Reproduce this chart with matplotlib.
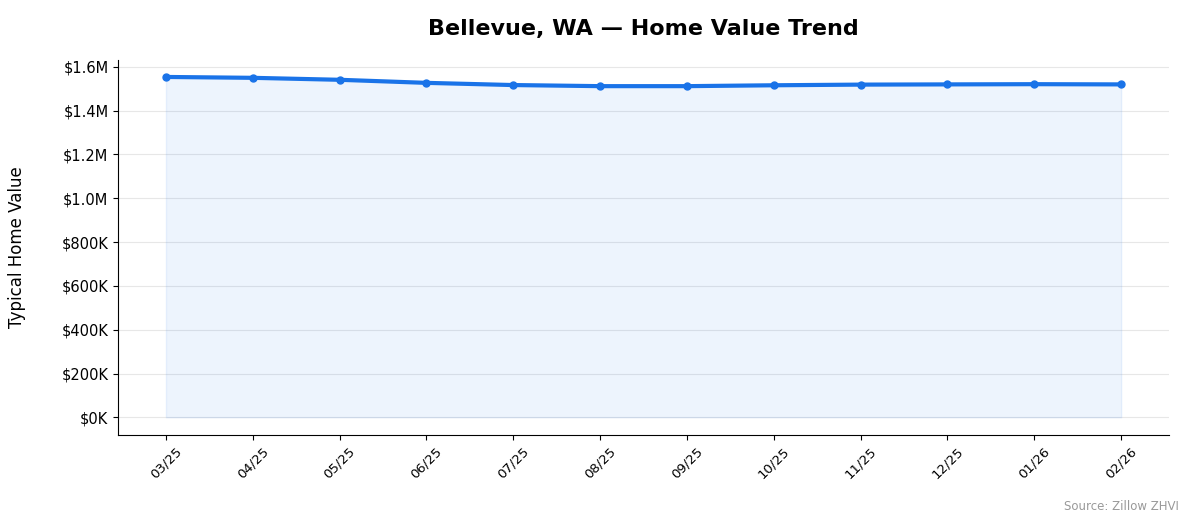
import matplotlib
matplotlib.use("Agg")
import matplotlib.pyplot as plt
from matplotlib.ticker import FuncFormatter

months = ["03/25","04/25","05/25","06/25","07/25","08/25","09/25","10/25","11/25","12/25","01/26","02/26"]
values = [1554000,1550000,1541000,1527000,1517000,1512000,1512000,1516000,1519000,1520000,1521000,1520000]

fig = plt.figure(figsize=(11.94,5.29), dpi=100)
ax = fig.add_axes([0.099, 0.178, 0.880, 0.708])
x = list(range(len(months)))
ax.fill_between(x, values, 0, color="#1a73e8", alpha=0.08)
ax.plot(x, values, color="#1a73e8", lw=3, marker="o", ms=5)
ax.set_ylim(-80000, 1630000)
ax.set_xlim(-0.55, 11.55)
ax.set_yticks([i*200000 for i in range(9)])
def fmt(v, p):
    return f"${v/1e6:.1f}M" if v >= 1e6 else f"${v/1e3:.0f}K"
ax.yaxis.set_major_formatter(FuncFormatter(fmt))
ax.set_xticks(x)
ax.set_xticklabels(months, rotation=45, fontsize=9.5)
ax.tick_params(axis="y", labelsize=10.5)
ax.grid(axis="y", color="#dddddd", alpha=0.7)
ax.set_axisbelow(True)
for s in ["top","right"]:
    ax.spines[s].set_visible(False)
ax.set_ylabel("Typical Home Value", fontsize=12, labelpad=6)
ax.yaxis.set_label_coords(-0.088, 0.5)
ax.set_title("Bellevue, WA — Home Value Trend", fontsize=16, fontweight="bold", pad=18)
fig.text(0.987, 0.035, "Source: Zillow ZHVI", ha="right", fontsize=8.5, color="#999999")
fig.savefig("out.png", dpi=100)
